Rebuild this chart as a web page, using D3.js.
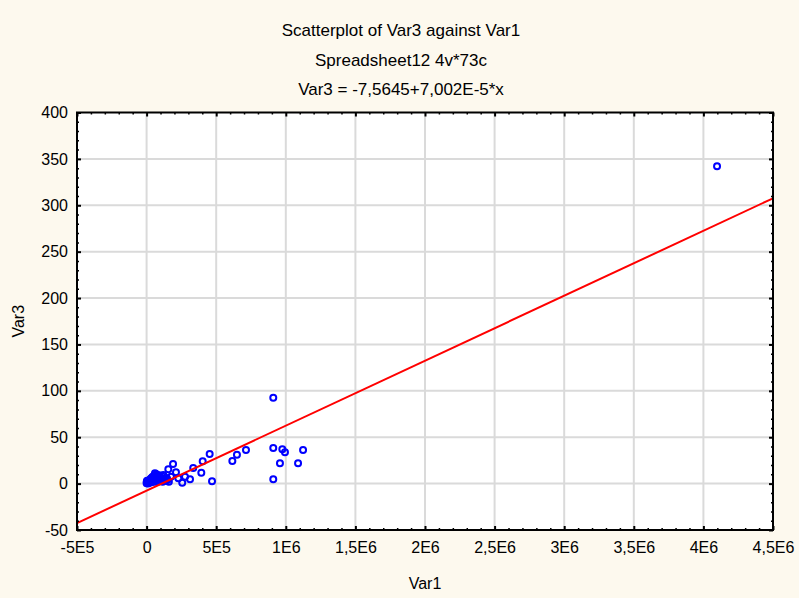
<!DOCTYPE html>
<html>
<head>
<meta charset="utf-8">
<script src="https://cdn.jsdelivr.net/npm/d3@7"></script>
<style>
  body { margin: 0; background: #fdf9ee; }
  svg { display: block; font-family: "Liberation Sans", Arial, sans-serif; }
</style>
</head>
<body>
<div id="wrapper"></div>
<script>
// Var1 values (x)
const var1 = [
  4098000, 910000, 910000, 975000, 994000, 1124000, 958000, 1088000, 910000,
  714000, 649000, 616000, 470000, 453000, 403000, 393000, 335000, 312000,
  256000, 190000, 156000, 211000, 276000, 228000, 175000, 120000, 60000,
  0, 1000, 8000, 3000, 10000, 12000, 15000, 18000, 20000, 22000, 25000, 28000,
  30000, 33000, 35000, 38000, 40000, 42000, 45000, 48000, 50000, 52000, 55000,
  58000, 60000, 62000, 65000, 68000, 70000, 72000, 75000, 78000, 80000, 85000,
  88000, 90000, 95000, 100000, 105000, 110000, 115000, 125000, 135000, 145000,
  150000, 160000
]
// Var3 values (y)
const var3 = [
  342, 92.6, 38.4, 37.0, 33.7, 36.2, 21.9, 21.9, 4.6,
  36.2, 31.1, 24.4, 2.5, 31.9, 24.0, 11.7, 16.8, 4.6,
  1.0, 21.1, 15.4, 12.2, 7.4, 5.7, 7.4, 9.3, 11.1,
  0.5, 2, 2, 3, 0, 1.5, 2.5, 3, 1, 4, 2, 5,
  3, 1.5, 6, 4, 2, 7, 5, 3, 8, 6, 4,
  9, 2, 7, 5, 3, 10, 6, 8, 4, 2, 7,
  5, 9, 3, 6, 4, 8, 2, 5, 3, 6,
  4, 2
]

// regression: Var3 = -7,5645 + 7,002E-5 * x
const intercept = -7.5645
const slope = 7.002e-5

const xTickValues = [-500000, 0, 500000, 1000000, 1500000, 2000000, 2500000, 3000000, 3500000, 4000000, 4500000]
const xTickLabels = ["-5E5", "0", "5E5", "1E6", "1,5E6", "2E6", "2,5E6", "3E6", "3,5E6", "4E6", "4,5E6"]
const yTickValues = [-50, 0, 50, 100, 150, 200, 250, 300, 350, 400]
const yTickLabels = ["-50", "0", "50", "100", "150", "200", "250", "300", "350", "400"]

const titles = ["Scatterplot of Var3 against Var1", "Spreadsheet12 4v*73c", "Var3 = -7,5645+7,002E-5*x"]

const data = var1.map((d, i) => ({x: d, y: var3[i]}))

const dimensions = {
  width: 799,
  height: 598,
  margins: {top: 112.5, right: 26, bottom: 68, left: 77}
}
dimensions.boundedWidth = dimensions.width - dimensions.margins.left - dimensions.margins.right
dimensions.boundedHeight = dimensions.height - dimensions.margins.top - dimensions.margins.bottom

const svg = d3.select("#wrapper")
  .append("svg")
    .attr("width", dimensions.width)
    .attr("height", dimensions.height)

svg.append("rect")
    .attr("width", dimensions.width)
    .attr("height", dimensions.height)
    .attr("fill", "#fdf9ee")

const bounds = svg.append("g")
    .attr("transform", `translate(${dimensions.margins.left},${dimensions.margins.top})`)

const xScale = d3.scaleLinear()
  .domain([-500000, 4500000])
  .range([0, dimensions.boundedWidth])

const yScale = d3.scaleLinear()
  .domain([-50, 400])
  .range([dimensions.boundedHeight, 0])

bounds.append("rect")
    .attr("width", dimensions.boundedWidth)
    .attr("height", dimensions.boundedHeight)
    .attr("fill", "white")

// grid
bounds.append("g")
  .selectAll("line")
  .data(xTickValues.slice(1, -1))
  .join("line")
    .attr("x1", d => xScale(d))
    .attr("x2", d => xScale(d))
    .attr("y1", 0)
    .attr("y2", dimensions.boundedHeight)
    .attr("stroke", "#dadada")
    .attr("stroke-width", 2)

bounds.append("g")
  .selectAll("line")
  .data(yTickValues.slice(1, -1))
  .join("line")
    .attr("x1", 0)
    .attr("x2", dimensions.boundedWidth)
    .attr("y1", d => yScale(d))
    .attr("y2", d => yScale(d))
    .attr("stroke", "#dadada")
    .attr("stroke-width", 2)

// points
bounds.append("g")
  .selectAll("circle")
  .data(data)
  .join("circle")
    .attr("cx", d => xScale(d.x))
    .attr("cy", d => yScale(d.y))
    .attr("r", 3)
    .attr("fill", "none")
    .attr("stroke", "#0000ff")
    .attr("stroke-width", 2)

// regression line
const lineGenerator = d3.line()
  .x(d => xScale(d))
  .y(d => yScale(intercept + slope * d))

bounds.append("path")
    .attr("d", lineGenerator(xScale.domain()))
    .attr("fill", "none")
    .attr("stroke", "#ff0000")
    .attr("stroke-width", 2)

// minor ticks (5 subdivisions)
const xMinor = []
for (let i = 0; i < xTickValues.length - 1; i++)
  for (let k = 1; k < 5; k++) xMinor.push(xTickValues[i] + k * 100000)
const yMinor = []
for (let i = 0; i < yTickValues.length - 1; i++)
  for (let k = 1; k < 5; k++) yMinor.push(yTickValues[i] + k * 10)

function styleTicks(g, w) {
  g.select(".domain").remove()
  g.selectAll(".tick line").attr("stroke", "black").attr("stroke-width", w)
}

const axes = [
  {gen: d3.axisBottom, scale: xScale, pos: `translate(0,${dimensions.boundedHeight})`, major: xTickValues, minor: xMinor, labels: xTickLabels},
  {gen: d3.axisTop, scale: xScale, pos: "translate(0,0)", major: xTickValues, minor: xMinor, labels: null},
  {gen: d3.axisLeft, scale: yScale, pos: "translate(0,0)", major: yTickValues, minor: yMinor, labels: yTickLabels},
  {gen: d3.axisRight, scale: yScale, pos: `translate(${dimensions.boundedWidth},0)`, major: yTickValues, minor: yMinor, labels: null},
]

axes.forEach(a => {
  bounds.append("g")
      .attr("transform", a.pos)
      .call(a.gen(a.scale).tickValues(a.minor).tickSize(-2).tickFormat(""))
      .call(g => styleTicks(g, 1.5))
  const major = bounds.append("g")
      .attr("transform", a.pos)
      .call(a.gen(a.scale).tickValues(a.major).tickSize(-4).tickPadding(a.gen === d3.axisLeft ? 9 : 12)
        .tickFormat((d, i) => a.labels ? a.labels[i] : ""))
      .call(g => styleTicks(g, 2))
  major.selectAll("text")
      .attr("fill", "black")
      .style("font-size", "16px")
      .style("font-family", "'Liberation Sans', Arial, sans-serif")
})

// frame
bounds.append("rect")
    .attr("width", dimensions.boundedWidth)
    .attr("height", dimensions.boundedHeight)
    .attr("fill", "none")
    .attr("stroke", "black")
    .attr("stroke-width", 2)

// titles
svg.append("g")
  .selectAll("text")
  .data(titles)
  .join("text")
    .attr("x", 401)
    .attr("y", (d, i) => 36 + i * 29.5)
    .attr("text-anchor", "middle")
    .style("font-size", "17px")
    .text(d => d)

svg.append("text")
    .attr("x", dimensions.margins.left + dimensions.boundedWidth / 2)
    .attr("y", 589)
    .attr("text-anchor", "middle")
    .style("font-size", "16px")
    .text("Var1")

svg.append("text")
    .attr("transform", `translate(24,${dimensions.margins.top + dimensions.boundedHeight / 2}) rotate(-90)`)
    .attr("text-anchor", "middle")
    .style("font-size", "16px")
    .text("Var3")
</script>
</body>
</html>
